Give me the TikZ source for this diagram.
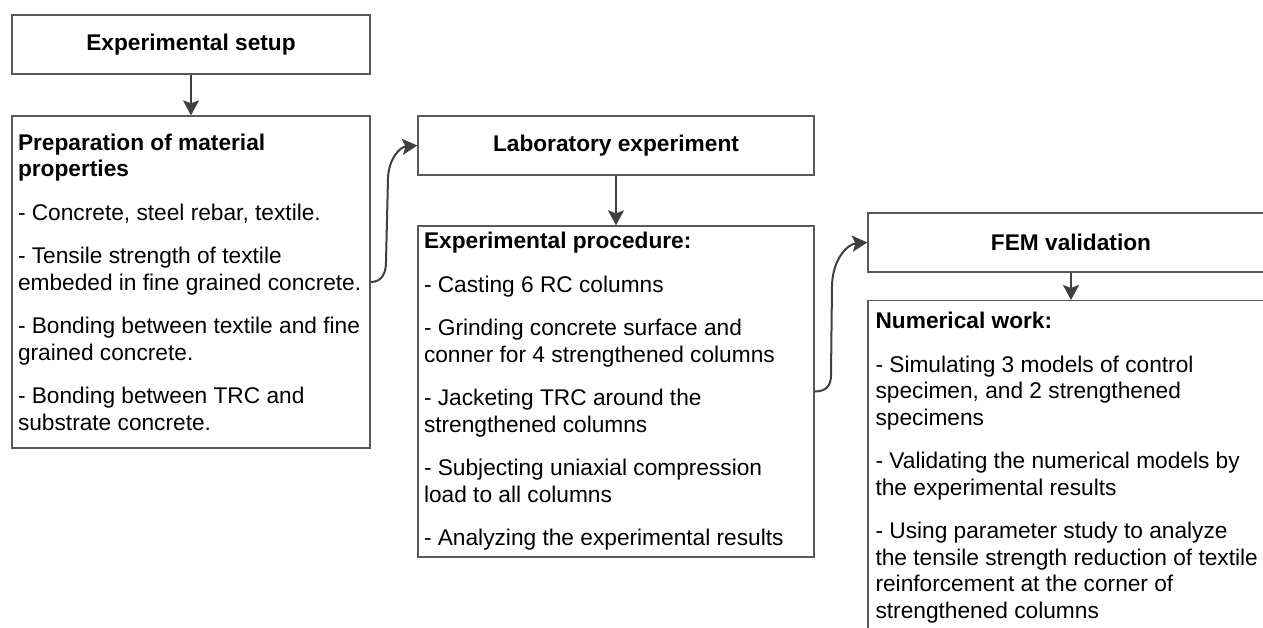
\documentclass[tikz,border=0pt]{standalone}
\usepackage{fontspec}
\setmainfont{Liberation Sans}
\usetikzlibrary{arrows.meta,calc}
\definecolor{boxline}{RGB}{89,89,89}
\definecolor{arrowcol}{RGB}{64,64,64}
\begin{document}
\begin{tikzpicture}[x=1pt,y=-1pt,
  box/.style={draw=boxline, line width=1.3pt, rectangle, inner xsep=6pt, inner ysep=0pt,
    font=\fontsize{22.7pt}{26.5pt}\selectfont, text=black},
  titlebox/.style={box, font=\bfseries\fontsize{22.7pt}{26.5pt}\selectfont, align=center},
  listbox/.style={box, align=flush left},
  plaintext/.style={inner sep=0pt, align=flush left, font=\fontsize{22.7pt}{26.5pt}\selectfont, text=black},
  conn/.style={draw=arrowcol, line width=2pt, -{Stealth[length=15pt,width=16pt,inset=3pt]}},
]
\useasboundingbox (0,0) rectangle (1263,628);
\clip (0,0) rectangle (1263,628);

\node[titlebox, minimum width=358pt, minimum height=59pt] (setup) at (191,44.5) {Experimental setup};

\node[listbox, text width=346pt, minimum height=332pt] (prep) at (191,282) {%
{\bfseries Preparation of material}\\
{\bfseries properties}\\[17pt]
- Concrete, steel rebar, textile.\\[17pt]
- Tensile strength of textile\\
embeded in fine grained concrete.\\[17pt]
- Bonding between textile and fine\\
grained concrete.\\[17pt]
- Bonding between TRC and\\
substrate concrete.};

\node[titlebox, minimum width=396pt, minimum height=59pt] (lab) at (616,145.5) {Laboratory experiment};

\node[listbox, text width=384pt, minimum height=331pt] (proc) at (616,391.5) {%
{\bfseries Experimental procedure:}\\[17pt]
- Casting 6 RC columns\\[17pt]
- Grinding concrete surface and\\
conner for 4 strengthened columns\\[17pt]
- Jacketing TRC around the\\
strengthened columns\\[17pt]
- Subjecting uniaxial compression\\
load to all columns\\[17pt]
- Analyzing the experimental results};

\node[titlebox, minimum width=406pt, minimum height=59pt] (fem) at (1071,242.5) {FEM validation};

\node[box, minimum width=406pt, minimum height=400pt, anchor=north] (num) at (1071,300) {};
\node[plaintext, anchor=north west, text width=390pt] (numtext) at ($(num.north west)+(8,12)$) {%
{\bfseries Numerical work:}\\[17pt]
- Simulating 3 models of control\\
specimen, and 2 strengthened\\
specimens\\[17pt]
- Validating the numerical models by\\
the experimental results\\[17pt]
- Using parameter study to analyze\\
the tensile strength reduction of textile\\
reinforcement at the corner of\\
strengthened columns};

\draw[conn] (setup) -- (prep);
\draw[conn] (lab) -- (proc);
\draw[conn] (fem) -- (num);

\draw[conn] (prep.east) .. controls (382,282) and (386,273) .. (386,262)
  -- (388,178) .. controls (389,158) and (400,147) .. (lab.west);
\draw[conn] (proc.east) .. controls (826,391.5) and (831,386) .. (831,375)
  -- (832,285) .. controls (833,258) and (848,244) .. (fem.west);
\end{tikzpicture}
\end{document}
